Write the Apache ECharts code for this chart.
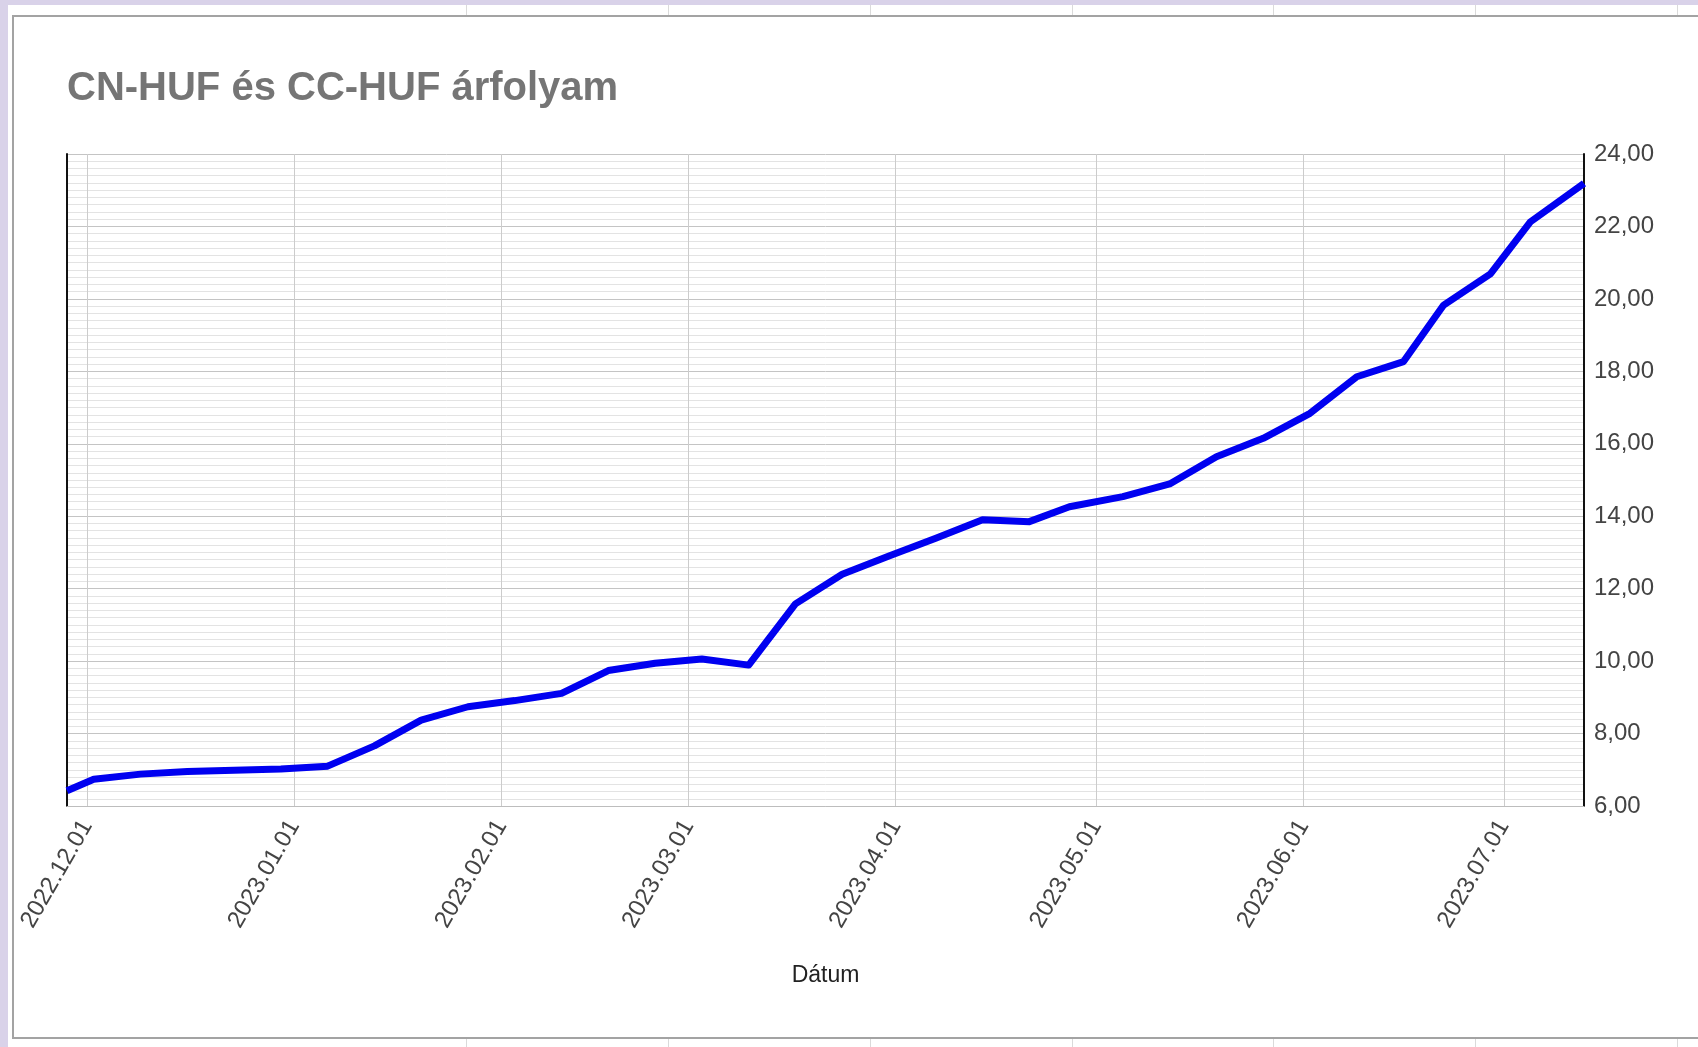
<!DOCTYPE html>
<html>
<head>
<meta charset="utf-8">
<title>CN-HUF és CC-HUF árfolyam</title>
<script src="https://cdn.jsdelivr.net/npm/echarts@6/dist/echarts.min.js"></script>
<style>
  html, body { margin: 0; padding: 0; }
  body { width: 1698px; height: 1047px; position: relative; overflow: hidden; background: #d9d2e9; }
  .sheet { position: absolute; left: 8px; top: 5px; right: 0; bottom: 0; background: #fff; }
  .col { position: absolute; top: 0; bottom: 0; width: 1px; background: #dadada; }
  .box { position: absolute; left: 12px; top: 15px; width: 1700px; height: 1024px; background: #fff; border: 2px solid #a3a3a3; box-sizing: border-box; }
  #chart { position: absolute; left: 0; top: 0; width: 1698px; height: 1047px; }
</style>
</head>
<body>
<div class="sheet">
  <div class="col" style="left:458px"></div>
  <div class="col" style="left:660px"></div>
  <div class="col" style="left:862px"></div>
  <div class="col" style="left:1064px"></div>
  <div class="col" style="left:1265px"></div>
  <div class="col" style="left:1467px"></div>
  <div class="col" style="left:1669px"></div>
</div>
<div class="box"></div>
<div id="chart"></div>
<script>
// árfolyam adatok (leolvasva)
const dates = [
  '2022-11-28', '2022-12-02', '2022-12-09', '2022-12-16', '2022-12-23', '2022-12-30',
  '2023-01-06', '2023-01-13', '2023-01-20', '2023-01-27', '2023-02-03', '2023-02-10',
  '2023-02-17', '2023-02-24', '2023-03-03', '2023-03-10', '2023-03-17', '2023-03-24',
  '2023-03-31', '2023-04-07', '2023-04-14', '2023-04-21', '2023-04-27', '2023-05-05',
  '2023-05-12', '2023-05-19', '2023-05-26', '2023-06-02', '2023-06-09', '2023-06-16',
  '2023-06-22', '2023-06-29', '2023-07-05', '2023-07-13'
]
const rates = [
  6.42, 6.74, 6.88, 6.95, 6.99, 7.02,
  7.10, 7.66, 8.37, 8.74, 8.91, 9.11,
  9.74, 9.94, 10.06, 9.89, 11.58, 12.40,
  12.90, 13.39, 13.90, 13.85, 14.26, 14.54,
  14.89, 15.64, 16.15, 16.84, 17.85, 18.27,
  19.83, 20.69, 22.13, 23.19
]
const monthTicks = [
  '2022-12-01', '2023-01-01', '2023-02-01', '2023-03-01',
  '2023-04-01', '2023-05-01', '2023-06-01', '2023-07-01'
]
const yMin = 6
const yMax = 24
const yStep = 2

const toTs = (s) => {
  const [y, m, d] = s.split('-').map(Number)
  return new Date(y, m - 1, d).getTime()
}
const pad = (n) => (n < 10 ? '0' + n : '' + n)
const fmtDate = (v) => {
  const d = new Date(v)
  return d.getFullYear() + '.' + pad(d.getMonth() + 1) + '.' + pad(d.getDate())
}
const fmtNum = (v) => v.toFixed(2).replace('.', ',')

const tickTs = monthTicks.map(toTs)

const chart = echarts.init(document.getElementById('chart'))

const option = {
  backgroundColor: 'transparent',
  animation: false,
  textStyle: { fontFamily: 'Liberation Sans, Arial, sans-serif' },
  title: {
    text: 'CN-HUF és CC-HUF árfolyam',
    left: 67,
    top: 69,
    padding: 0,
    textStyle: {
      fontSize: 40,
      fontWeight: 'bold',
      color: '#757575',
      fontFamily: 'Liberation Sans, Arial, sans-serif'
    }
  },
  grid: {
    left: 67,
    right: 114,
    top: 154,
    bottom: 241,
    containLabel: false
  },
  xAxis: {
    type: 'value',
    min: toTs(dates[0]),
    max: toTs(dates[dates.length - 1]),
    name: 'Dátum',
    nameLocation: 'middle',
    nameGap: 158,
    nameTextStyle: { fontSize: 23, color: '#222' },
    axisLine: { show: true, lineStyle: { color: '#bdbdbd', width: 1 } },
    axisTick: { show: false, customValues: tickTs },
    axisLabel: {
      customValues: tickTs,
      rotate: 60,
      margin: 16,
      fontSize: 24,
      color: '#444',
      formatter: (value) => fmtDate(value),
      hideOverlap: false
    },
    splitLine: { show: true, lineStyle: { color: '#cccccc', width: 1 } }
  },
  yAxis: [
    {
      type: 'value',
      position: 'right',
      min: yMin,
      max: yMax,
      interval: yStep,
      axisLine: { show: true, lineStyle: { color: '#111', width: 2 } },
      axisTick: { show: false },
      minorTick: { show: false, splitNumber: 10 },
      axisLabel: {
        margin: 10,
        fontSize: 24,
        color: '#444',
        formatter: (v) => fmtNum(v)
      },
      splitLine: { show: true, lineStyle: { color: '#c4c4c4', width: 1 } },
      minorSplitLine: { show: true, lineStyle: { color: '#e3e3e3', width: 1 } }
    },
    {
      type: 'value',
      position: 'left',
      min: yMin,
      max: yMax,
      interval: yStep,
      axisLine: { show: true, lineStyle: { color: '#111', width: 2 } },
      axisTick: { show: false },
      axisLabel: { show: false },
      splitLine: { show: false }
    }
  ],
  series: [
    {
      name: 'CN-HUF',
      type: 'line',
      yAxisIndex: 0,
      data: dates.map((d, i) => [toTs(d), rates[i]]),
      showSymbol: false,
      smooth: false,
      lineStyle: { color: '#0000f0', width: 7, join: 'round' },
      itemStyle: { color: '#0000f0' }
    }
  ]
}

chart.setOption(option)

window.addEventListener('resize', () => {
  chart.resize()
})
</script>
</body>
</html>
